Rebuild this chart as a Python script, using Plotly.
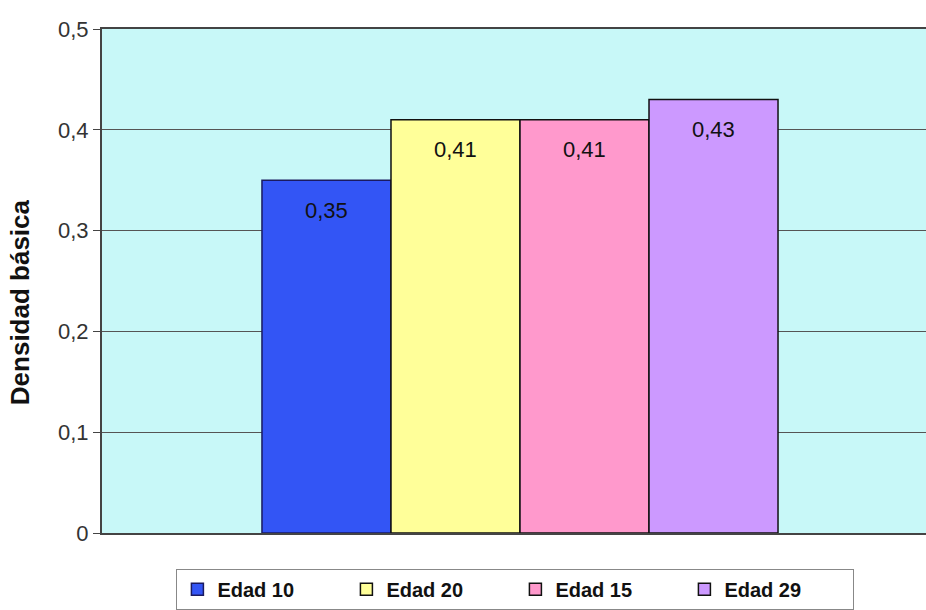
import plotly.graph_objects as go

categories = ["Edad 10", "Edad 20", "Edad 15", "Edad 29"]
values = [0.35, 0.41, 0.41, 0.43]
colors = ["#3355F5", "#FFFF99", "#FF99CC", "#CC99FF"]
outlines = ["#1A1A60", "#111111", "#111111", "#111111"]
y_ticks = [0, 0.1, 0.2, 0.3, 0.4, 0.5]
y_tick_labels = ["0", "0,1", "0,2", "0,3", "0,4", "0,5"]
y_title = "Densidad básica"

fig = go.Figure()
for cat, val, col, oc in zip(categories, values, colors, outlines):
    fig.add_trace(go.Bar(
        x=[cat], y=[val], name=cat, width=1,
        marker=dict(color=col, line=dict(color=oc, width=1.5)),
    ))
    fig.add_annotation(
        x=cat, y=val, yshift=-30, text=f"{val:.2f}".replace(".", ","),
        showarrow=False, font=dict(family="Liberation Sans", size=22, color="#111111"),
    )

fig.add_annotation(
    xref="paper", yref="paper", x=-0.0995, y=0.458, text=y_title, textangle=-90,
    showarrow=False, xanchor="center", yanchor="middle",
    font=dict(family="Liberation Sans", size=26, color="#111111", weight="bold"),
)

fig.update_layout(
    width=926, height=610,
    margin=dict(l=102, r=0, t=29, b=75),
    paper_bgcolor="white",
    plot_bgcolor="#C8F8F8",
    barmode="overlay",
    font=dict(family="Liberation Sans", color="#222222"),
    showlegend=True,
    legend=dict(
        orientation="h", x=0.0903, xanchor="left", y=-0.071, yanchor="top",
        bordercolor="#888888", borderwidth=1, bgcolor="white",
        font=dict(family="Liberation Sans", size=20, color="#111111", weight="bold"),
        entrywidth=124, entrywidthmode="pixels",
        traceorder="normal",
    ),
    xaxis=dict(
        type="category", categoryorder="array", categoryarray=categories,
        range=[-1.74, 4.647], showticklabels=False, showgrid=False,
        showline=True, linecolor="#444444", linewidth=2, mirror=True,
        ticks="", zeroline=False,
    ),
    yaxis=dict(
        range=[0, 0.5], tickvals=y_ticks, ticktext=y_tick_labels,
        ticks="outside", ticklen=7, tickcolor="#444444",
        showgrid=True, gridcolor="#555555", gridwidth=1,
        showline=True, linecolor="#444444", linewidth=2,
        zeroline=False,
        tickfont=dict(family="Liberation Sans", size=22, color="#333333"),
    ),
)

fig.write_html("out.html")
